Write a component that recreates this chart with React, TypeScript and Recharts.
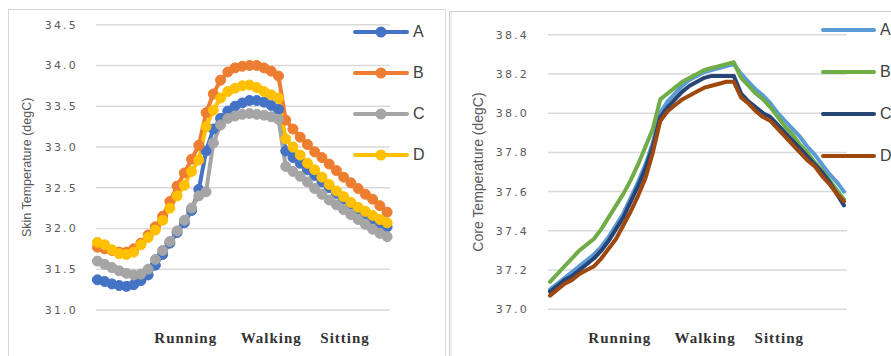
import React from 'react';
import { LineChart, Line, XAxis, YAxis, CartesianGrid } from 'recharts';

// ---------- data ----------
const seriesNames = ['A', 'B', 'C', 'D'];
const phaseLabels = ['Running', 'Walking', 'Sitting'];
const skinPhaseTicks = [12.2, 24, 34.2];
const corePhaseTicks = [9.5, 21.1, 31.2];
const skinYTicks = [31.0, 31.5, 32.0, 32.5, 33.0, 33.5, 34.0, 34.5];
const coreYTicks = [37.0, 37.2, 37.4, 37.6, 37.8, 38.0, 38.2, 38.4];

const skinA = [31.37, 31.35, 31.32, 31.3, 31.29, 31.31, 31.36, 31.43, 31.55, 31.68, 31.82, 31.95, 32.07, 32.22, 32.48, 32.95, 33.22, 33.35, 33.44, 33.5, 33.54, 33.57, 33.57, 33.55, 33.51, 33.46, 32.95, 32.87, 32.8, 32.72, 32.65, 32.57, 32.5, 32.43, 32.36, 32.3, 32.24, 32.18, 32.12, 32.07, 32.02];
const skinB = [31.77, 31.75, 31.73, 31.71, 31.71, 31.75, 31.82, 31.92, 32.02, 32.15, 32.33, 32.52, 32.68, 32.85, 33.02, 33.42, 33.65, 33.82, 33.92, 33.97, 33.99, 34.0, 34.0, 33.97, 33.93, 33.87, 33.33, 33.22, 33.12, 33.03, 32.94, 32.87, 32.79, 32.71, 32.63, 32.56, 32.49, 32.42, 32.36, 32.28, 32.2];
const skinC = [31.6, 31.56, 31.52, 31.48, 31.45, 31.43, 31.44, 31.5, 31.62, 31.73, 31.84, 31.97, 32.1, 32.25, 32.4, 32.45, 33.05, 33.27, 33.35, 33.38, 33.4, 33.41, 33.4, 33.39, 33.37, 33.34, 32.76, 32.7, 32.64, 32.57, 32.49, 32.42, 32.35, 32.29, 32.23, 32.17, 32.11, 32.05, 31.99, 31.94, 31.9];
const skinD = [31.83, 31.8, 31.74, 31.69, 31.68, 31.71, 31.8, 31.89, 31.98, 32.1, 32.25, 32.4, 32.53, 32.7, 32.84, 33.25, 33.45, 33.6, 33.68, 33.72, 33.75, 33.76, 33.73, 33.68, 33.64, 33.6, 33.1, 33.0, 32.9, 32.8, 32.72, 32.63, 32.54, 32.46, 32.39, 32.32, 32.26, 32.21, 32.16, 32.11, 32.07];

const coreA = [37.1, 37.13, 37.16, 37.19, 37.22, 37.25, 37.28, 37.32, 37.37, 37.43, 37.49, 37.57, 37.65, 37.74, 37.85, 38.0, 38.06, 38.1, 38.14, 38.17, 38.19, 38.21, 38.22, 38.23, 38.24, 38.25, 38.2, 38.16, 38.12, 38.09, 38.05, 38.0, 37.96, 37.92, 37.88, 37.83, 37.79, 37.74, 37.69, 37.65, 37.6];
const coreB = [37.14, 37.18, 37.22, 37.26, 37.3, 37.33, 37.36, 37.41, 37.47, 37.53, 37.59, 37.66, 37.74, 37.83, 37.92, 38.07, 38.1, 38.13, 38.16, 38.18, 38.2, 38.22, 38.23, 38.24, 38.25, 38.26, 38.18, 38.14, 38.1, 38.07, 38.03, 37.98, 37.93, 37.89, 37.84, 37.8, 37.75, 37.71, 37.66, 37.61, 37.56];
const coreC = [37.09, 37.12, 37.15, 37.17, 37.2, 37.23, 37.26, 37.3, 37.35, 37.41, 37.47, 37.55, 37.63, 37.72, 37.83, 37.98, 38.03, 38.07, 38.11, 38.14, 38.16, 38.18, 38.19, 38.19, 38.19, 38.19, 38.1, 38.06, 38.03, 38.0, 37.98, 37.94, 37.9, 37.86, 37.82, 37.78, 37.74, 37.7, 37.65, 37.59, 37.53];
const coreD = [37.07, 37.1, 37.13, 37.15, 37.18, 37.2, 37.22, 37.26, 37.31, 37.36, 37.43, 37.5, 37.58, 37.67, 37.8, 37.96, 38.01, 38.04, 38.07, 38.09, 38.11, 38.13, 38.14, 38.15, 38.16, 38.16, 38.08, 38.05, 38.01, 37.98, 37.96, 37.92, 37.88, 37.84, 37.8, 37.76, 37.73, 37.68, 37.64, 37.59, 37.55];

// ---------- styles ----------
const skinColors = ['#4472C4', '#ED7D31', '#A5A5A5', '#FFC000'];
const coreColors = ['#5B9BD5', '#70AD47', '#264478', '#9E480E'];
const gridColor = '#d9d9d9';
const tickStyle = { fontSize: 11, fontFamily: 'DejaVu Sans', fill: '#595959', letterSpacing: 2.2 };
const catStyle = { fontSize: 15, fontFamily: 'Liberation Serif', fontWeight: 700, fill: '#333333', letterSpacing: 1 };

const skinData = skinA.map((v, i) => ({ t: i, A: v, B: skinB[i], C: skinC[i], D: skinD[i] }));
const coreData = coreA.map((v, i) => ({ t: i, A: v, B: coreB[i], C: coreC[i], D: coreD[i] }));

function AxisTitle(props: any) {
  const { viewBox, lx, text, size } = props;
  const cy = viewBox.y + viewBox.height / 2;
  return (
    <text
      x={lx}
      y={cy}
      transform={`rotate(-90 ${lx} ${cy})`}
      textAnchor="middle"
      dominantBaseline="central"
      fontSize={size}
      fontFamily="Liberation Sans"
      fill="#595959"
    >
      {text}
    </text>
  );
}

function LegendBox(props: any) {
  const { colors, left, top, rowH, lineW, marker } = props;
  return (
    <div style={{ position: 'absolute', left, top }}>
      {seriesNames.map((n, i) => (
        <div key={n} style={{ height: rowH, display: 'flex', alignItems: 'center', whiteSpace: 'nowrap' }}>
          <svg width={lineW} height={12} style={{ display: 'block' }}>
            <line x1={2} y1={6} x2={lineW - 2} y2={6} stroke={colors[i]} strokeWidth={4} strokeLinecap="round" />
            {marker ? <circle cx={lineW / 2} cy={6} r={5.5} fill={colors[i]} /> : null}
          </svg>
          <span style={{ marginLeft: 4, fontSize: 16, fontFamily: 'Liberation Sans', color: '#404040', lineHeight: '16px' }}>{n}</span>
        </div>
      ))}
    </div>
  );
}

export default function App() {
  return (
    <div style={{ position: 'absolute', left: 0, top: 0, width: 891, height: 356, overflow: 'hidden', background: '#ffffff' }}>
      <div style={{ position: 'absolute', left: 8, top: 9, width: 438, height: 400, border: '1px solid #d9d9d9', boxSizing: 'border-box' }} />
      <div style={{ position: 'absolute', left: 449, top: 11, width: 460, height: 400, border: '1px solid #d0d0d0', boxSizing: 'border-box', boxShadow: 'inset 2px 0 0 #efefef' }} />

      <div style={{ position: 'absolute', left: 8, top: 9 }}>
        <LineChart width={437} height={347} data={skinData} margin={{ top: 15.7, right: 55, bottom: 6, left: 28 }}>
          <CartesianGrid vertical={false} stroke={gridColor} strokeWidth={1.5} />
          <XAxis
            dataKey="t"
            type="number"
            domain={[-0.2, 40.4]}
            ticks={skinPhaseTicks}
            interval={0}
            tickFormatter={(v: number) => phaseLabels[skinPhaseTicks.indexOf(v)] ?? ''}
            axisLine={false}
            tickLine={false}
            tickSize={0}
            tickMargin={22}
            height={40}
            tick={catStyle}
          />
          <YAxis
            type="number"
            domain={[31, 34.5]}
            ticks={skinYTicks}
            interval={0}
            tickFormatter={(v: number) => v.toFixed(1)}
            axisLine={false}
            tickLine={false}
            tickSize={0}
            tickMargin={18}
            width={60}
            tick={tickStyle}
            label={<AxisTitle lx={19} text="Skin Temperature (degC)" size={12.5} />}
          />
          {seriesNames.map((n, i) => (
            <Line
              key={n}
              dataKey={n}
              type="linear"
              stroke={skinColors[i]}
              strokeWidth={4}
              strokeLinejoin="round"
              dot={{ r: 5, fill: skinColors[i], stroke: skinColors[i], strokeWidth: 1 }}
              activeDot={false}
              isAnimationActive={false}
            />
          ))}
        </LineChart>
      </div>
      <LegendBox colors={skinColors} left={353} top={11.5} rowH={41} lineW={56} marker />

      <div style={{ position: 'absolute', left: 449, top: 11 }}>
        <LineChart width={442} height={345} data={coreData} margin={{ top: 23.7, right: 44, bottom: 6.7, left: 39 }}>
          <CartesianGrid vertical={false} stroke={gridColor} strokeWidth={1.5} />
          <XAxis
            dataKey="t"
            type="number"
            domain={[-0.27, 40.41]}
            ticks={corePhaseTicks}
            interval={0}
            tickFormatter={(v: number) => phaseLabels[corePhaseTicks.indexOf(v)] ?? ''}
            axisLine={false}
            tickLine={false}
            tickSize={0}
            tickMargin={23}
            height={40}
            tick={catStyle}
          />
          <YAxis
            type="number"
            domain={[37, 38.4]}
            ticks={coreYTicks}
            interval={0}
            tickFormatter={(v: number) => v.toFixed(1)}
            axisLine={false}
            tickLine={false}
            tickSize={0}
            tickMargin={19}
            width={60}
            tick={tickStyle}
            label={<AxisTitle lx={29} text="Core Temperature (degC)" size={14} />}
          />
          {seriesNames.map((n, i) => (
            <Line
              key={n}
              dataKey={n}
              type="linear"
              stroke={coreColors[i]}
              strokeWidth={4}
              strokeLinejoin="round"
              strokeLinecap="round"
              dot={false}
              activeDot={false}
              isAnimationActive={false}
            />
          ))}
        </LineChart>
      </div>
      <LegendBox colors={coreColors} left={821} top={9} rowH={42} lineW={55} marker={false} />
    </div>
  );
}
